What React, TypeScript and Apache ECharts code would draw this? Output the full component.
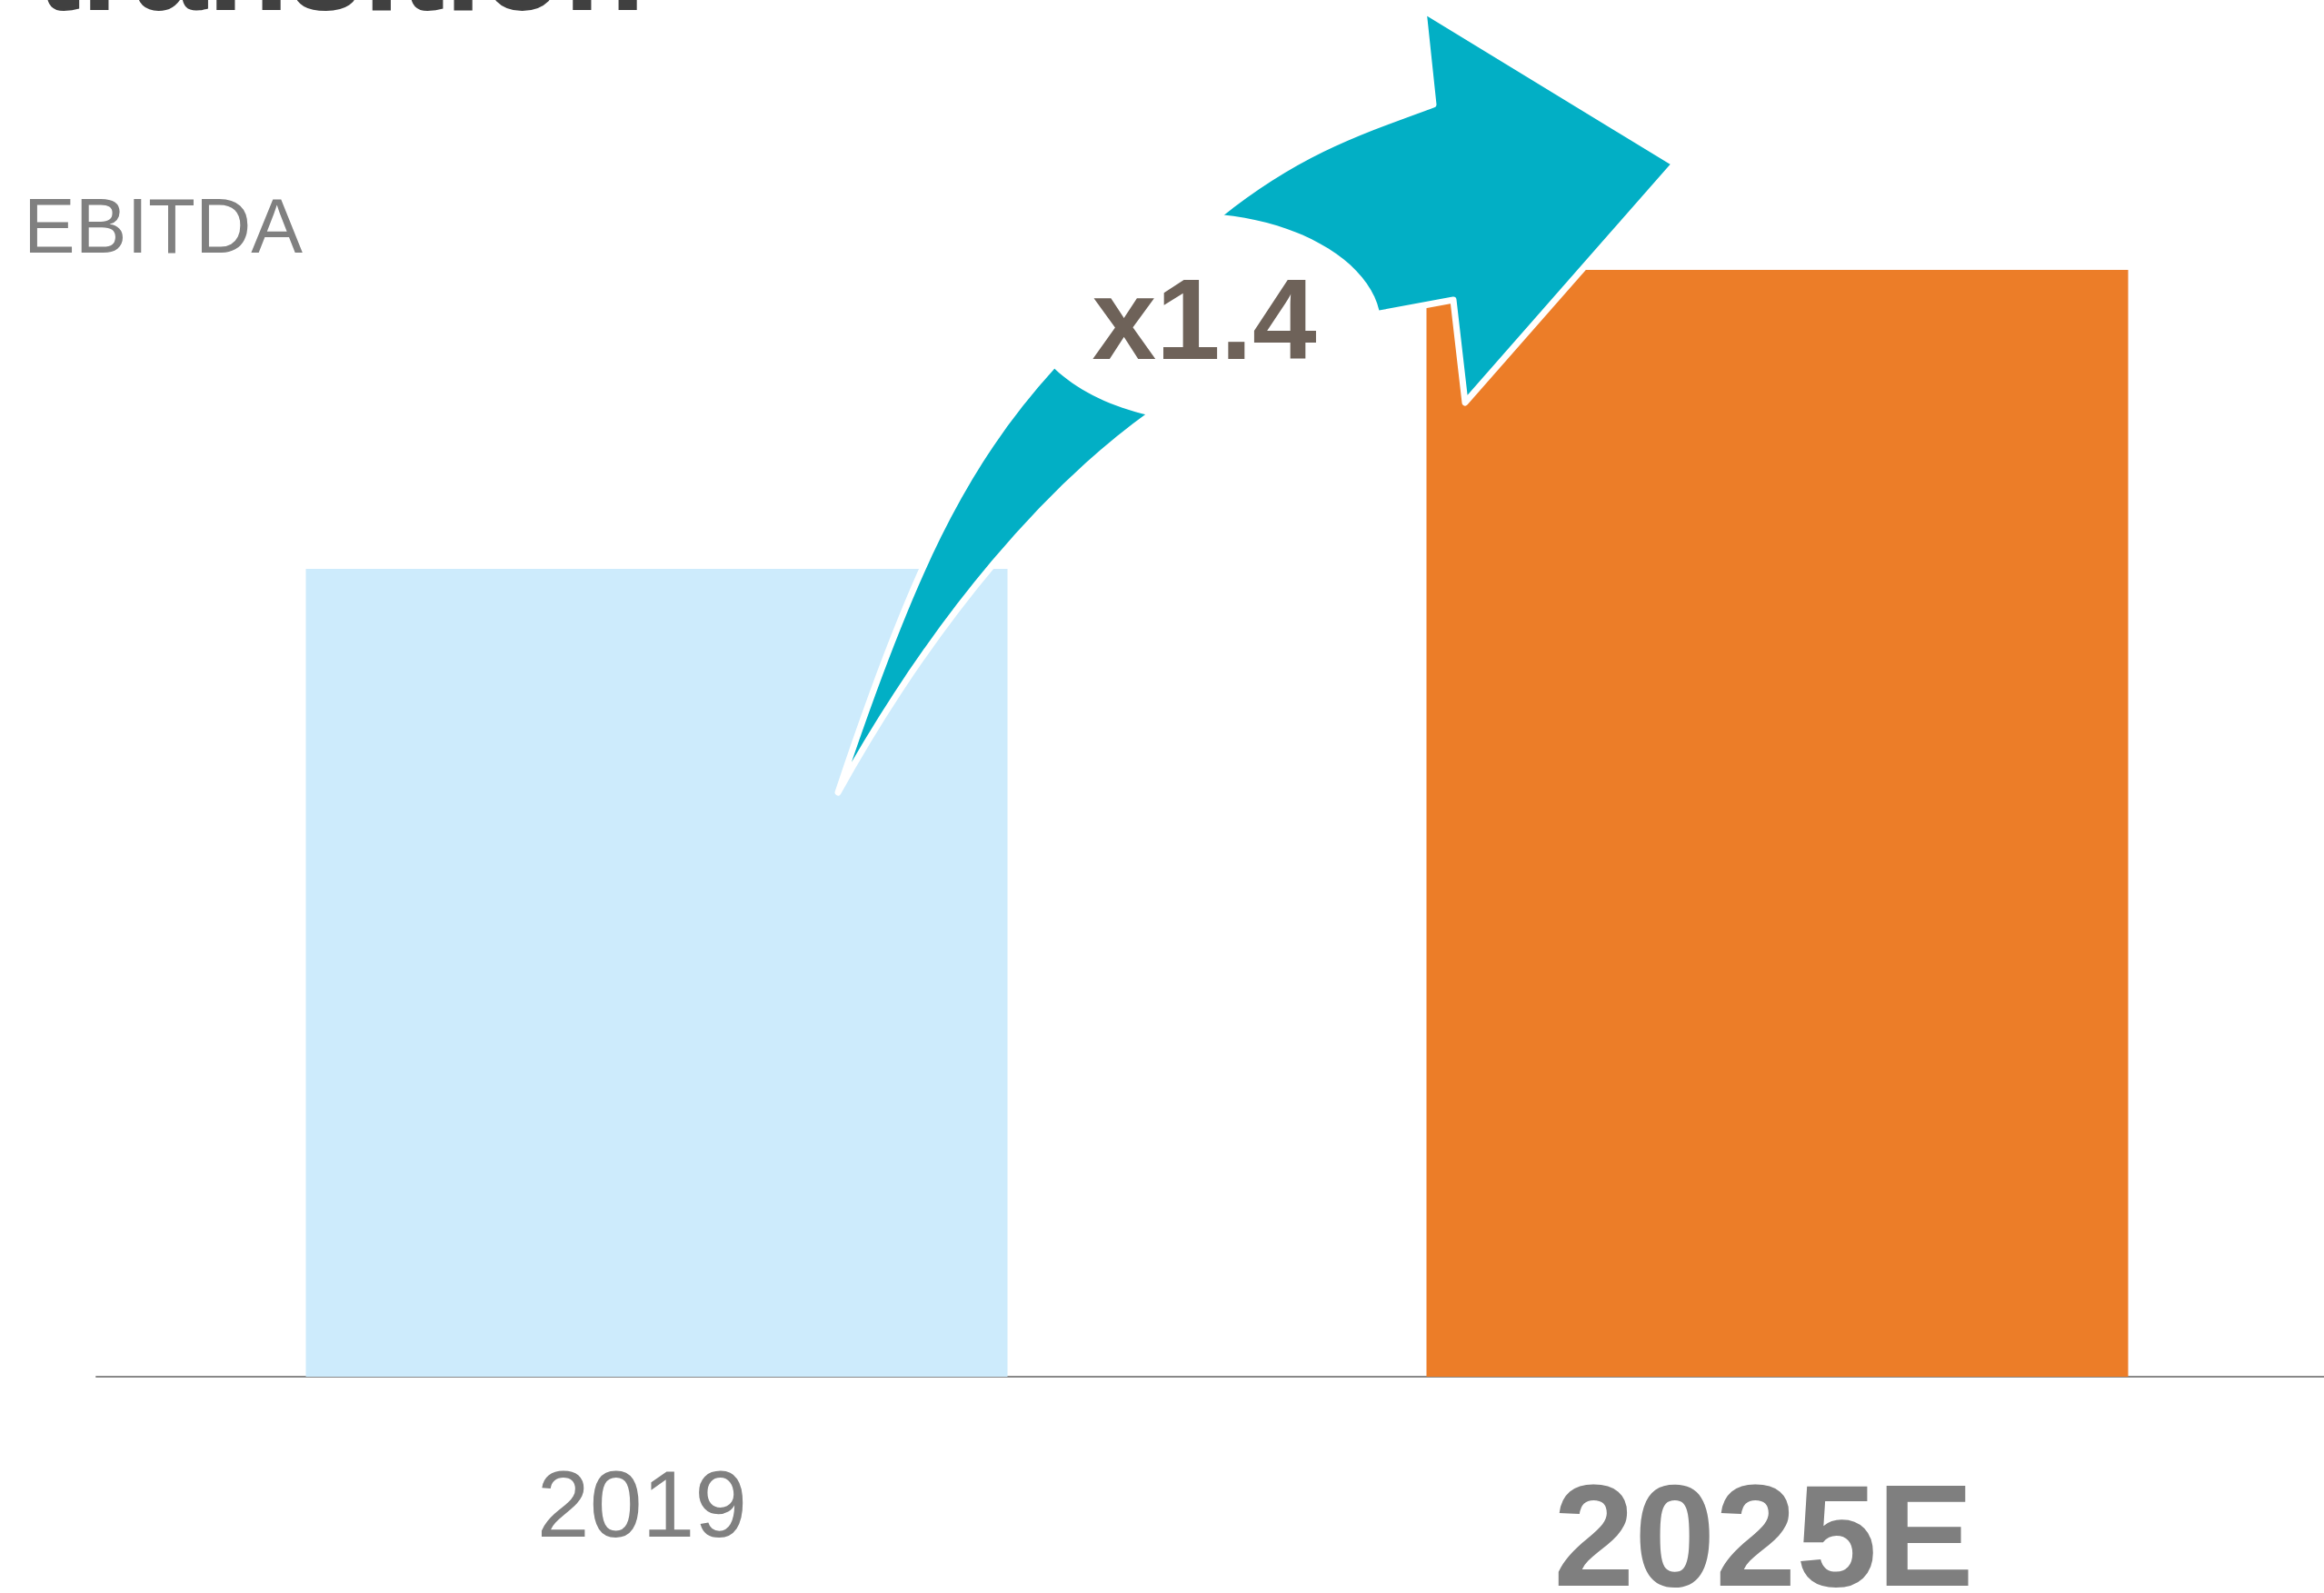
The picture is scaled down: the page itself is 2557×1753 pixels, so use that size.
import React, { useEffect, useRef } from "react";
import * as echarts from "echarts";

const categories = ["2019", "2025E"];
const ebitdaValues = [100, 137];
const barColors = ["#CDEBFC", "#EC7D28"];
const multipleLabel = "x1.4";
const metricLabel = "EBITDA";
const titleTail = "transition";

const ARROW_D =
  "M 922 872 C 1002 632 1058 513 1158 403 L 1342 236 C 1427 168 1492 146 1577 115 " +
  "L 1566 11 L 1843 180 L 1612 443 L 1599 330 L 1518 345 L 1266 456 " +
  "C 1156 535 1032 674 922 872 Z";

let registered = false;
function ensureShape() {
  if (registered) return;
  echarts.graphic.registerShape("growthArrow", (echarts.graphic as any).extendPath(ARROW_D, {}));
  registered = true;
}

const FONT = "'Liberation Sans', Arial, sans-serif";

export default function App() {
  const ref = useRef<HTMLDivElement>(null);
  useEffect(() => {
    if (!ref.current) return;
    ensureShape();
    const chart = echarts.init(ref.current, null, { renderer: "svg" });
    chart.setOption({
      animation: false,
      backgroundColor: "#ffffff",
      grid: {
        left: 106,
        top: 181.5,
        width: 2466,
        height: 1333.5,
        containLabel: false,
        outerBoundsMode: "none",
      },
      xAxis: {
        type: "category",
        data: categories,
        axisTick: { show: false },
        axisLine: { lineStyle: { color: "#888888", width: 2 } },
        axisLabel: {
          interval: 0,
          margin: 114,
          formatter: (v: string, i: number) => (i === 1 ? `{b|${v}}` : `{a|${v}}`),
          rich: {
            a: {
              fontFamily: FONT,
              fontSize: 104,
              lineHeight: 52,
              color: "#808080",
              padding: [0, 32, 0, 0],
            },
            b: {
              fontFamily: FONT,
              fontSize: 160,
              lineHeight: 120,
              fontWeight: "bold",
              color: "#7F7F7F",
              padding: [0, 30, 0, 0],
            },
          },
        },
      },
      yAxis: { type: "value", min: 0, max: 150, show: false, splitLine: { show: false } },
      series: [
        {
          type: "bar",
          barWidth: 772,
          data: ebitdaValues.map((v, i) => ({ value: v, itemStyle: { color: barColors[i] } })),
        },
      ],
      graphic: [
        {
          type: "text",
          z: 20,
          x: 40,
          y: -40,
          style: {
            text: titleTail,
            fontFamily: FONT,
            fontWeight: "bold",
            fontSize: 147,
            fill: "#404040",
            align: "left",
            verticalAlign: "middle",
          },
        },
        {
          type: "text",
          z: 20,
          x: 26,
          y: 248,
          style: {
            text: metricLabel,
            fontFamily: FONT,
            fontSize: 85,
            fill: "#808080",
            align: "left",
            verticalAlign: "middle",
          },
        },
        {
          type: "growthArrow",
          z: 100,
          x: 0,
          y: 0,
          style: { fill: "#02AFC5", stroke: "#ffffff", lineWidth: 7, lineJoin: "round" },
        },
        {
          type: "ellipse",
          z: 101,
          x: 1324.5,
          y: 350,
          rotation: -0.059,
          shape: { cx: 0, cy: 0, rx: 195, ry: 115 },
          style: { fill: "#ffffff" },
        },
        {
          type: "text",
          z: 102,
          x: 1325,
          y: 351,
          style: {
            text: multipleLabel,
            fontFamily: FONT,
            fontWeight: "bold",
            fontSize: 127,
            fill: "#6E6259",
            align: "center",
            verticalAlign: "middle",
          },
        },
      ],
    });
    return () => chart.dispose();
  }, []);
  return (
    <div
      ref={ref}
      style={{ position: "absolute", left: 0, top: 0, width: 2557, height: 1753 }}
    />
  );
}
